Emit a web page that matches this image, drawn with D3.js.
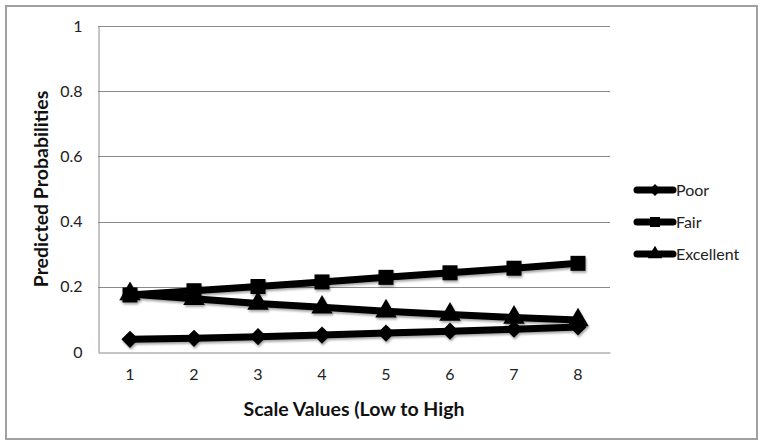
<!DOCTYPE html>
<html><head><meta charset="utf-8">
<script src="https://cdn.jsdelivr.net/npm/d3@7"></script>
<style>body{margin:0;background:#fff}svg{display:block}</style>
</head><body>
<svg id="c" width="764" height="445"></svg>
<script>
const categories = [1,2,3,4,5,6,7,8];
const poor      = [0.039,0.042,0.047,0.052,0.058,0.064,0.070,0.077];
const fair      = [0.175,0.188,0.201,0.215,0.229,0.243,0.257,0.272];
const excellent = [0.178,0.163,0.149,0.137,0.125,0.115,0.106,0.098];
const yTicks = [0,0.2,0.4,0.6,0.8,1];
const seriesNames = ["Poor","Fair","Excellent"];
const symbols = [d3.symbolDiamond2, d3.symbolSquare, d3.symbolTriangle];

const svg = d3.select("#c");
const font = "Lato, 'Open Sans', sans-serif";
const L=98,R=610,T=26,B=352;
const x = d3.scaleBand().domain(categories).range([L,R]);
const y = d3.scaleLinear().domain([0,1]).range([B,T]);

const defs = svg.append("defs");
const f = defs.append("filter").attr("id","sh").attr("x","-20%").attr("y","-20%").attr("width","140%").attr("height","160%");
f.append("feDropShadow").attr("dx",1).attr("dy",2).attr("stdDeviation",1.2).attr("flood-color","#000").attr("flood-opacity",0.35);

svg.append("rect").attr("x",6).attr("y",6).attr("width",751).attr("height",433)
  .attr("fill","#fff").attr("stroke","#a0a0a0").attr("stroke-width",2);

// gridlines
svg.append("g").selectAll("line").data(yTicks.filter(d=>d>0)).join("line")
  .attr("x1",L).attr("x2",R).attr("y1",d=>Math.round(y(d))+0.5).attr("y2",d=>Math.round(y(d))+0.5)
  .attr("stroke","#8a8a8a").attr("stroke-width",1);

const yAxis = svg.append("g").attr("transform",`translate(${L+0.5},0)`)
  .call(d3.axisLeft(y).tickValues(yTicks).tickFormat(d3.format("")).tickSize(0).tickPadding(16));
yAxis.select(".domain").attr("stroke","#8a8a8a");
yAxis.selectAll("text").attr("font-family",font).attr("font-size",16).attr("fill","#222");

const xAxis = svg.append("g").attr("transform",`translate(0,${B+0.5})`)
  .call(d3.axisBottom(x).tickSize(0).tickPadding(16));
xAxis.select(".domain").attr("stroke","#8a8a8a");
xAxis.selectAll("text").attr("font-family",font).attr("font-size",16).attr("fill","#222");

svg.append("text").attr("x",(L+R)/2).attr("y",416).attr("text-anchor","middle")
  .attr("font-family",font).attr("font-weight","bold").attr("font-size",19.5).attr("fill","#111")
  .text("Scale Values (Low to High");
svg.append("text").attr("transform",`translate(48,${(T+B)/2}) rotate(-90)`).attr("text-anchor","middle")
  .attr("font-family",font).attr("font-weight","bold").attr("font-size",19.5).attr("fill","#111")
  .text("Predicted Probabilities");

const data = [poor,fair,excellent];
const line = d3.line().x((d,i)=>x(categories[i])+x.bandwidth()/2).y(d=>y(d));
const sizes = [190,225,200];
const g = svg.append("g").attr("filter","url(#sh)");
data.forEach((vals,k)=>{
  g.append("path").attr("d",line(vals)).attr("fill","none").attr("stroke","#000").attr("stroke-width",7);
});
data.forEach((vals,k)=>{
  g.selectAll(null).data(vals).join("path")
    .attr("d",d3.symbol().type(symbols[k]).size(sizes[k]))
    .attr("transform",(d,i)=>`translate(${x(categories[i])+x.bandwidth()/2},${y(d)})`)
    .attr("fill","#000");
});

// legend
const lg = svg.append("g");
seriesNames.forEach((n,k)=>{
  const yy = 190 + k*32;
  lg.append("line").attr("x1",637).attr("x2",673).attr("y1",yy).attr("y2",yy)
    .attr("stroke","#000").attr("stroke-width",7).attr("stroke-linecap","round");
  lg.append("path").attr("d",d3.symbol().type(symbols[k]).size(k===1?100:90)())
    .attr("transform",`translate(655,${yy})`).attr("fill","#000");
  lg.append("text").attr("x",676).attr("y",yy).attr("dy","0.35em")
    .attr("font-family",font).attr("font-size",16).attr("fill","#222").text(n);
});
</script>
</body></html>
